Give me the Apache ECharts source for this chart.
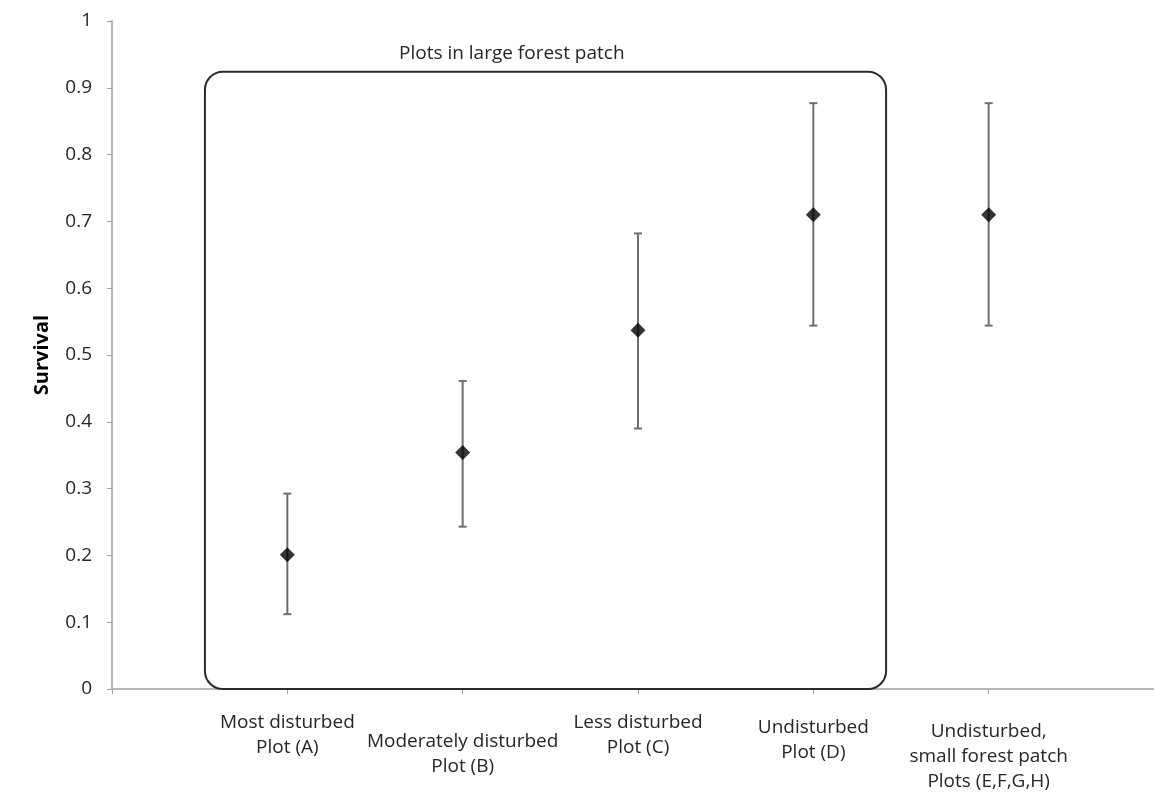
<!DOCTYPE html>
<html>
<head>
<meta charset="utf-8">
<script src="https://cdn.jsdelivr.net/npm/echarts@6/dist/echarts.min.js"></script>
<style>html,body{margin:0;padding:0;background:#fff;}#c{width:1154px;height:798px;}</style>
</head>
<body>
<div id="c"></div>
<script>
// Data
const categories = ['Most disturbed\nPlot (A)', 'Moderately disturbed\nPlot (B)', 'Less disturbed\nPlot (C)', 'Undisturbed\nPlot (D)', 'Undisturbed,\nsmall forest patch\nPlots (E,F,G,H)'];
const labelDrop = [0, 19, 0, 5, 9];
const xPositions = [1, 2, 3, 4, 5];
const survival = [0.201, 0.354, 0.537, 0.710, 0.710];
const errLow = [0.112, 0.243, 0.390, 0.544, 0.544];
const errHigh = [0.2925, 0.461, 0.682, 0.877, 0.877];
const yTicks = [0, 0.1, 0.2, 0.3, 0.4, 0.5, 0.6, 0.7, 0.8, 0.9, 1];
const boxExtent = [0.53, 4.415, 0, 0.924]; // x0, x1, y0, y1 in data units
const boxTitle = 'Plots in large forest patch';
const boxTitleX = 2.28; // data units

const FONT = '"Open Sans", sans-serif';
const TXT = '#262626';

const rich = { t: { fontSize: 19, lineHeight: 25, color: TXT, fontFamily: FONT } };
labelDrop.forEach(d => { if (d > 0) rich['s' + d] = { fontSize: 1, lineHeight: d }; });

const chart = echarts.init(document.getElementById('c'));
chart.setOption({
  animation: false,
  backgroundColor: '#fff',
  grid: { left: 112, top: 21, width: 1052, height: 668, outerBoundsMode: 'none', containLabel: false },
  xAxis: {
    type: 'value', min: 0, max: 6, interval: 1,
    splitLine: { show: false },
    axisLine: { show: true, lineStyle: { color: '#b8b8b8', width: 2 } },
    axisTick: { show: true, length: 5, lineStyle: { color: '#a0a0a0', width: 1 } },
    axisLabel: {
      margin: 21, fontFamily: FONT, fontSize: 19, color: TXT, lineHeight: 25,
      rich: rich,
      formatter: function (v) {
        const i = xPositions.indexOf(v);
        if (i < 0) return '';
        const lines = categories[i].split('\n').map(s => '{t|' + s + '}');
        const d = labelDrop[i];
        return (d > 0 ? '{s' + d + '| }\n' : '') + lines.join('\n');
      }
    }
  },
  yAxis: {
    type: 'value', min: 0, max: 1, interval: 0.1,
    splitLine: { show: false },
    axisLine: { show: true, lineStyle: { color: '#b8b8b8', width: 2 } },
    axisTick: { show: true, length: 5, lineStyle: { color: '#a0a0a0', width: 1 } },
    axisLabel: {
      margin: 20, fontFamily: FONT, fontSize: 19, color: TXT,
      formatter: function (v) {
        let best = yTicks[0];
        yTicks.forEach(t => { if (Math.abs(t - v) < Math.abs(best - v)) best = t; });
        return String(best);
      }
    },
    name: 'Survival', nameLocation: 'middle', nameRotate: 90, nameGap: 60,
    nameTextStyle: { fontFamily: FONT, fontSize: 20, fontWeight: 'bold', color: '#000' }
  },
  series: [
    {
      type: 'custom',
      z: 3,
      silent: true,
      data: [boxExtent],
      renderItem: function (params, api) {
        const p0 = api.coord([api.value(0), api.value(3)]);
        const p1 = api.coord([api.value(1), api.value(2)]);
        const tx = api.coord([boxTitleX, api.value(3)]);
        return {
          type: 'group',
          children: [
            {
              type: 'rect',
              shape: { x: p0[0], y: p0[1], width: p1[0] - p0[0], height: p1[1] - p0[1], r: 18 },
              style: { fill: 'none', stroke: '#2b2b2b', lineWidth: 2 }
            },
            {
              type: 'text',
              style: {
                x: tx[0], y: tx[1] - 18,
                text: boxTitle, fill: TXT, font: '19px ' + FONT,
                align: 'center', verticalAlign: 'middle'
              }
            }
          ]
        };
      }
    },
    {
      type: 'custom',
      z: 4,
      silent: true,
      data: xPositions.map((x, i) => [x, errLow[i], errHigh[i]]),
      renderItem: function (params, api) {
        const x = api.value(0);
        const top = api.coord([x, api.value(2)]);
        const bot = api.coord([x, api.value(1)]);
        const w = 4;
        const st = { stroke: '#6e6e6e', lineWidth: 2 };
        return {
          type: 'group',
          children: [
            { type: 'line', shape: { x1: top[0], y1: top[1], x2: bot[0], y2: bot[1] }, style: st },
            { type: 'line', shape: { x1: top[0] - w, y1: top[1], x2: top[0] + w, y2: top[1] }, style: st },
            { type: 'line', shape: { x1: bot[0] - w, y1: bot[1], x2: bot[0] + w, y2: bot[1] }, style: st }
          ]
        };
      }
    },
    {
      type: 'scatter',
      z: 5,
      symbol: 'diamond',
      symbolSize: 15,
      itemStyle: { color: '#000' },
      data: xPositions.map((x, i) => [x, survival[i]])
    }
  ]
});
</script>
</body>
</html>
